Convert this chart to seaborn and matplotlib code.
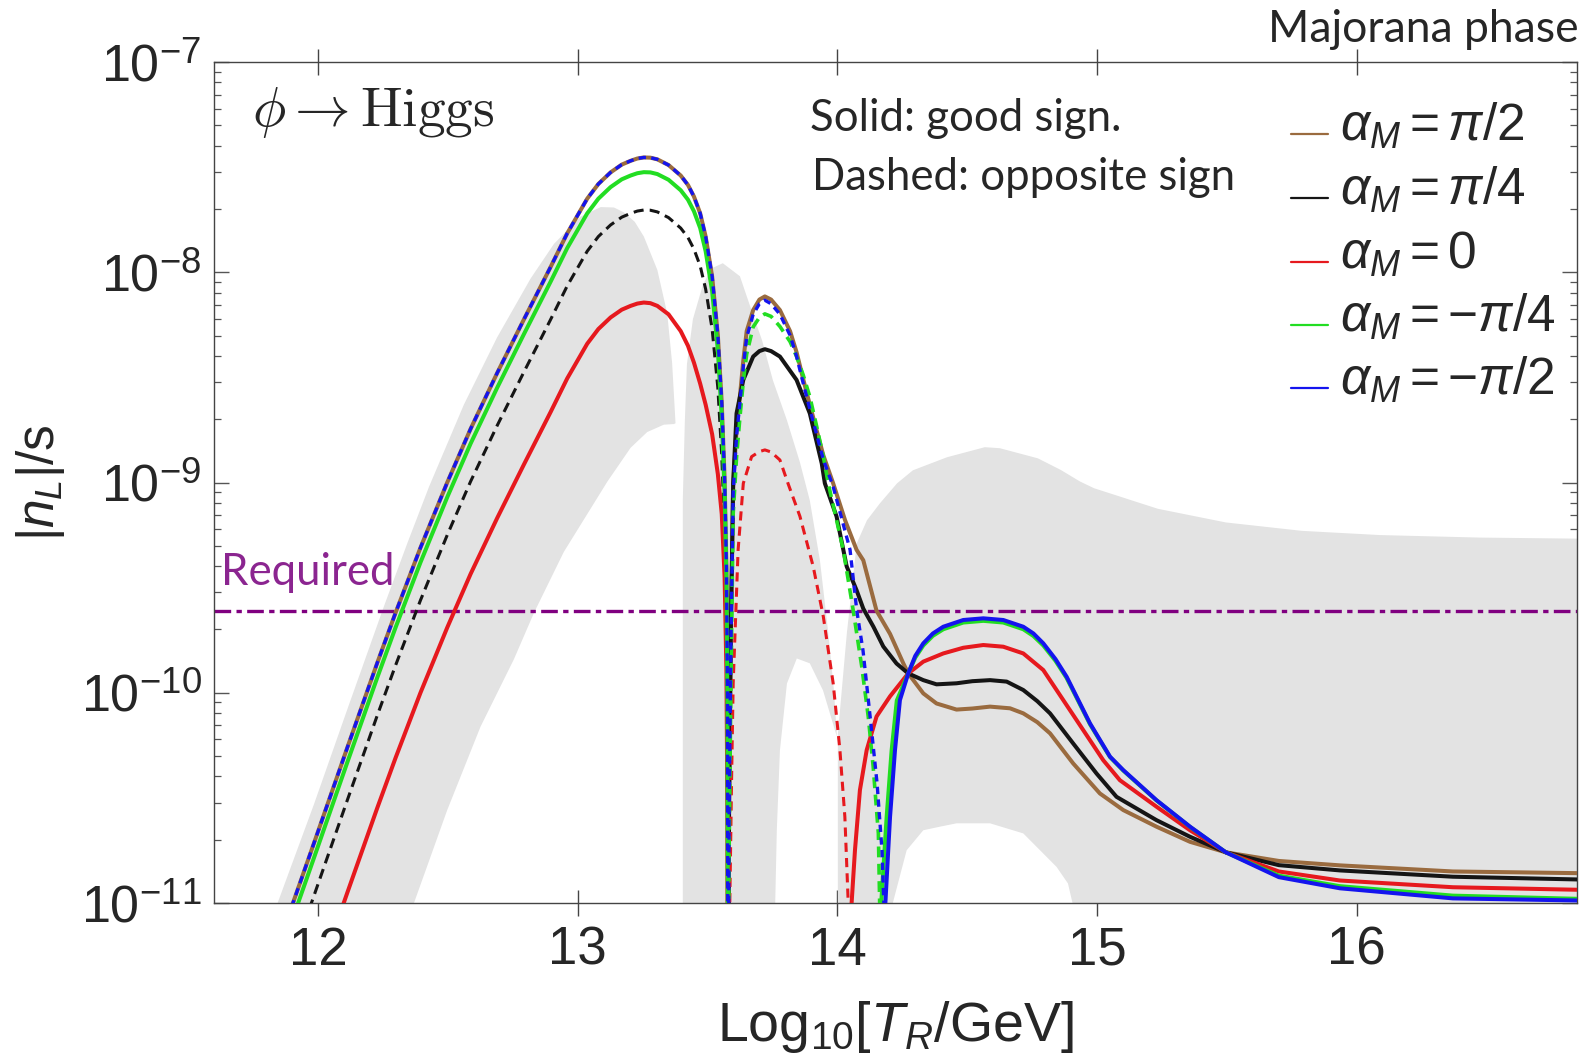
import numpy as np
import pandas as pd
import matplotlib
matplotlib.use("Agg")
import matplotlib.pyplot as plt
import seaborn as sns
from matplotlib.lines import Line2D

# ------------------------------------------------------------------
# Data.  x = Log10[T_R/GeV],  values = log10(|n_L|/s)
# ------------------------------------------------------------------
x_hump1 = [11.800, 11.904, 11.985, 12.113, 12.228, 12.299, 12.395, 12.498, 12.588, 12.690,
           12.793, 12.896, 12.960, 13.037, 13.080, 13.127, 13.170, 13.204, 13.230, 13.255,
           13.280, 13.307, 13.350, 13.397, 13.425, 13.448, 13.472, 13.493, 13.518, 13.540,
           13.555, 13.566, 13.573, 13.577, 13.579]
lg_hump1_pi2 = [-11.36, -11.00, -10.715, -10.262, -9.860, -9.620, -9.310, -9.000, -8.745, -8.480,
                -8.225, -7.975, -7.815, -7.650, -7.580, -7.525, -7.488, -7.470, -7.459, -7.454,
                -7.455, -7.463, -7.490, -7.540, -7.585, -7.640, -7.720, -7.830, -8.020, -8.300,
                -8.620, -8.980, -9.400, -10.000, -12.0]
lg_hump1_mpi4 = [-11.43, -11.07, -10.785, -10.332, -9.930, -9.690, -9.380, -9.070, -8.815, -8.550,
                 -8.295, -8.045, -7.885, -7.720, -7.650, -7.595, -7.558, -7.540, -7.529, -7.524,
                 -7.525, -7.533, -7.560, -7.610, -7.655, -7.710, -7.790, -7.900, -8.090, -8.370,
                 -8.690, -9.050, -9.470, -10.070, -12.0]
lg_hump1_pi4 = [-11.61, -11.25, -10.965, -10.512, -10.110, -9.870, -9.560, -9.250, -8.995, -8.730,
                -8.475, -8.225, -8.065, -7.900, -7.830, -7.775, -7.738, -7.720, -7.709, -7.704,
                -7.705, -7.713, -7.740, -7.790, -7.835, -7.890, -7.970, -8.080, -8.270, -8.550,
                -8.870, -9.230, -9.650, -10.250, -12.0]
lg_hump1_zero = [-12.05, -11.69, -11.405, -10.952, -10.550, -10.310, -10.000, -9.690, -9.435, -9.170,
                 -8.915, -8.665, -8.505, -8.340, -8.270, -8.215, -8.178, -8.160, -8.149, -8.144,
                 -8.147, -8.160, -8.200, -8.280, -8.350, -8.430, -8.530, -8.630, -8.770, -8.960,
                 -9.150, -9.450, -9.900, -10.600, -12.0]

# alpha = pi/2 (brown, solid) after the first zero
x_tail_pi2 = [13.579, 13.583, 13.590, 13.599, 13.612, 13.625, 13.638, 13.651, 13.676, 13.700,
              13.721, 13.745, 13.779, 13.818, 13.843, 13.869, 13.894, 13.920, 13.946, 13.984,
              14.030, 14.074, 14.100, 14.151, 14.203, 14.254, 14.273, 14.331, 14.382, 14.459,
              14.520, 14.588, 14.665, 14.716, 14.770, 14.819, 14.908, 15.011, 15.101, 15.229,
              15.358, 15.496, 15.700, 15.935, 16.370, 16.848]
lg_tail_pi2 = [-12.0, -10.50, -9.70, -9.004, -8.75, -8.59, -8.42, -8.28, -8.18, -8.13,
               -8.115, -8.13, -8.18, -8.28, -8.38, -8.51, -8.63, -8.75, -8.87, -9.004,
               -9.18, -9.32, -9.37, -9.61, -9.72, -9.86, -9.908, -10.003, -10.051, -10.080,
               -10.075, -10.066, -10.074, -10.098, -10.140, -10.193, -10.336, -10.479, -10.558, -10.637,
               -10.709, -10.759, -10.800, -10.821, -10.850, -10.858]

# alpha = pi/4 (black, solid) after the first zero
x_tail_pi4 = [13.579, 13.583, 13.590, 13.599, 13.612, 13.638, 13.676, 13.700, 13.721, 13.745,
              13.779, 13.843, 13.894, 13.940, 13.952, 13.997, 14.036, 14.074, 14.100, 14.139,
              14.177, 14.228, 14.273, 14.331, 14.382, 14.459, 14.520, 14.588, 14.652, 14.716,
              14.770, 14.819, 14.908, 14.998, 15.075, 15.229, 15.358, 15.496, 15.700, 15.935,
              16.370, 16.848]
lg_tail_pi4 = [-12.0, -10.60, -9.70, -9.004, -8.671, -8.512, -8.401, -8.375, -8.366, -8.375,
               -8.401, -8.512, -8.671, -8.909, -9.004, -9.161, -9.399, -9.512, -9.600, -9.686,
               -9.780, -9.861, -9.908, -9.940, -9.960, -9.955, -9.945, -9.940, -9.947, -9.987,
               -10.040, -10.098, -10.241, -10.384, -10.495, -10.606, -10.685, -10.759, -10.820, -10.845,
               -10.875, -10.888]

# second hump, opposite sign (dashed)
x_hump2_mpi2 = [13.579, 13.583, 13.590, 13.599, 13.612, 13.625, 13.638, 13.651, 13.676, 13.700,
                13.721, 13.745, 13.779, 13.818, 13.843, 13.869, 13.894, 13.920, 13.946, 13.984,
                14.049, 14.075, 14.099, 14.126, 14.153, 14.172, 14.179, 14.182]
lg_hump2_mpi2 = [-12.0, -10.60, -9.80, -9.05, -8.78, -8.62, -8.45, -8.31, -8.20, -8.15,
                 -8.133, -8.15, -8.20, -8.30, -8.40, -8.53, -8.65, -8.77, -8.89, -9.02,
                 -9.32, -9.61, -9.80, -10.11, -10.43, -10.75, -11.0, -12.0]
x_hump2_mpi4 = [13.579, 13.583, 13.590, 13.599, 13.612, 13.625, 13.638, 13.651, 13.676, 13.700,
                13.721, 13.745, 13.779, 13.818, 13.843, 13.869, 13.894, 13.920, 13.946, 13.965,
                14.023, 14.061, 14.094, 14.119, 14.138, 14.158, 14.163, 14.166]
lg_hump2_mpi4 = [-12.0, -10.80, -10.00, -9.15, -8.88, -8.69, -8.52, -8.39, -8.26, -8.215,
                 -8.198, -8.21, -8.258, -8.33, -8.401, -8.49, -8.591, -8.73, -8.877, -9.004,
                 -9.321, -9.607, -9.875, -10.113, -10.351, -10.669, -11.0, -12.0]
x_hump2_zero = [13.581, 13.586, 13.593, 13.599, 13.618, 13.638, 13.670, 13.700, 13.721, 13.745,
                13.779, 13.810, 13.856, 13.907, 13.946, 13.984, 14.010, 14.029, 14.042, 14.048]
lg_hump2_zero = [-12.0, -11.0, -10.40, -9.955, -9.321, -9.004, -8.877, -8.853, -8.845, -8.855,
                 -8.893, -9.004, -9.161, -9.399, -9.637, -9.955, -10.273, -10.590, -11.0, -12.0]

# third region, good sign (solid)
x_hump3_zero = [14.050, 14.055, 14.068, 14.087, 14.113, 14.151, 14.203, 14.273, 14.331, 14.408,
                14.485, 14.562, 14.639, 14.716, 14.793, 14.870, 14.947, 15.024, 15.088, 15.229,
                15.358, 15.496, 15.700, 15.935, 16.370, 16.848]
lg_hump3_zero = [-12.0, -11.0, -10.748, -10.463, -10.273, -10.113, -10.017, -9.908, -9.852, -9.813,
                 -9.786, -9.773, -9.781, -9.813, -9.892, -10.035, -10.178, -10.321, -10.416, -10.542,
                 -10.654, -10.759, -10.850, -10.893, -10.925, -10.937]
x_hump3_mpi2 = [14.182, 14.185, 14.203, 14.222, 14.241, 14.273, 14.300, 14.331, 14.368, 14.408,
                14.485, 14.562, 14.639, 14.716, 14.755, 14.793, 14.840, 14.883, 14.973, 15.050,
                15.101, 15.229, 15.358, 15.496, 15.700, 15.935, 16.370, 16.848]
lg_hump3_mpi2 = [-12.0, -11.0, -10.590, -10.273, -10.035, -9.908, -9.825, -9.765, -9.718, -9.686,
                 -9.654, -9.646, -9.654, -9.686, -9.718, -9.765, -9.840, -9.924, -10.146, -10.304,
                 -10.368, -10.511, -10.637, -10.759, -10.877, -10.930, -10.978, -10.988]
x_hump3_mpi4 = [14.166, 14.169, 14.190, 14.209, 14.229, 14.273, 14.300, 14.331, 14.368, 14.408,
                14.485, 14.562, 14.639, 14.716, 14.755, 14.793, 14.840, 14.883, 14.973, 15.050,
                15.101, 15.229, 15.358, 15.496, 15.700, 15.935, 16.370, 16.848]
lg_hump3_mpi4 = [-12.0, -11.0, -10.589, -10.275, -10.037, -9.908, -9.833, -9.775, -9.729, -9.698,
                 -9.666, -9.658, -9.666, -9.698, -9.730, -9.775, -9.848, -9.930, -10.150, -10.306,
                 -10.370, -10.512, -10.638, -10.759, -10.870, -10.920, -10.965, -10.980]

# grey uncertainty band (three pieces)
band1_upper_x = [11.830, 11.985, 12.113, 12.254, 12.344, 12.428, 12.562, 12.690, 12.819, 12.909,
                 13.012, 13.089, 13.140, 13.178, 13.220, 13.255, 13.307, 13.345, 13.364, 13.377]
band1_upper_lg = [-11.05, -10.530, -10.080, -9.590, -9.290, -9.020, -8.630, -8.310, -8.030, -7.865,
                  -7.735, -7.690, -7.692, -7.715, -7.760, -7.830, -7.989, -8.195, -8.433, -8.718]
band1_lower_x = [12.355, 12.370, 12.498, 12.626, 12.755, 12.832, 12.947, 13.115, 13.204, 13.268,
                 13.332, 13.371]
band1_lower_lg = [-11.05, -11.0, -10.558, -10.162, -9.840, -9.620, -9.330, -8.995, -8.835, -8.760,
                  -8.725, -8.722]
band2_upper_x = [13.405, 13.405, 13.413, 13.421, 13.444, 13.483, 13.517, 13.559, 13.625, 13.663,
                 13.710, 13.752, 13.806, 13.856, 13.894, 13.933, 13.964, 13.987, 13.998]
band2_upper_lg = [-11.05, -9.085, -8.704, -8.437, -8.223, -8.057, -7.981, -7.957, -8.019, -8.157,
                  -8.323, -8.514, -8.704, -8.904, -9.085, -9.370, -9.703, -9.989, -10.194]
band2_lower_x = [13.998, 13.983, 13.945, 13.894, 13.844, 13.806, 13.779, 13.767, 13.760]
band2_lower_lg = [-10.208, -10.146, -9.989, -9.860, -9.837, -9.956, -10.274, -10.654, -11.05]
band3_upper_x = [14.002, 14.002, 14.037, 14.075, 14.114, 14.164, 14.230, 14.291, 14.422, 14.568,
                 14.626, 14.772, 14.860, 14.934, 14.988, 15.234, 15.496, 15.789, 16.089, 16.474,
                 16.848, 16.848]
band3_upper_lg = [-11.05, -10.198, -9.713, -9.289, -9.180, -9.099, -9.004, -8.942, -8.880, -8.832,
                  -8.837, -8.885, -8.940, -8.995, -9.027, -9.125, -9.190, -9.230, -9.250, -9.262,
                  -9.267, -11.05]
band3_lower_x = [14.915, 14.888, 14.844, 14.716, 14.588, 14.459, 14.395, 14.331, 14.267, 14.203]
band3_lower_lg = [-11.05, -10.907, -10.828, -10.669, -10.621, -10.621, -10.637, -10.654, -10.749, -11.05]

required_lg = -9.609

x_ticks = [12, 13, 14, 15, 16]
x_tick_labels = ["12", "13", "14", "15", "16"]
y_tick_exps = [-11, -10, -9, -8, -7]
y_tick_labels = [r"$10^{-11}$", r"$10^{-10}$", r"$10^{-9}$", r"$10^{-8}$", r"$10^{-7}$"]

legend_labels = [r"$\alpha_M=\pi/2$", r"$\alpha_M=\pi/4$", r"$\alpha_M=0$",
                 r"$\alpha_M={-}\pi/4$", r"$\alpha_M={-}\pi/2$"]
legend_colors = ["#9a6b3f", "#151515", "#e6191e", "#22dd22", "#1414ee"]

C_BROWN, C_BLACK, C_RED, C_GREEN, C_BLUE = legend_colors
C_GREY = "#e3e3e3"
C_PURPLE = "#800080"

# ------------------------------------------------------------------
sns.set_style("ticks")
plt.rcParams["font.family"] = ["Liberation Sans", "DejaVu Sans"]
plt.rcParams["mathtext.fontset"] = "custom"
plt.rcParams["mathtext.rm"] = "Liberation Sans"
plt.rcParams["mathtext.it"] = "Liberation Sans:italic"
plt.rcParams["mathtext.bf"] = "Liberation Sans:bold"
plt.rcParams["mathtext.sf"] = "Liberation Sans"

W, H = 1592, 1054
fig = plt.figure(figsize=(W / 100, H / 100), dpi=100)
ax = fig.add_axes([214 / W, 1 - 903 / H, 1363 / W, 841 / H])
ax.set_yscale("log")
ax.set_xlim(11.6, 16.848)
ax.set_ylim(1e-11, 1e-7)


def pw(v):
    return np.power(10.0, np.asarray(v, dtype=float))


# grey band
for ux, ul, lx, ll in [(band1_upper_x, band1_upper_lg, band1_lower_x[::-1], band1_lower_lg[::-1]),
                       (band2_upper_x, band2_upper_lg, band2_lower_x, band2_lower_lg),
                       (band3_upper_x, band3_upper_lg, band3_lower_x, band3_lower_lg)]:
    px = list(ux) + list(lx)
    py = list(ul) + list(ll)
    ax.fill(px, pw(py), color=C_GREY, lw=0, zorder=1)

ax.axhline(10 ** required_lg, color=C_PURPLE, lw=2.4, linestyle=(0, (5.0, 1.6, 1.6, 1.6)), zorder=2)


def draw(x, lg, color, lw, dash=None, z=3):
    df = pd.DataFrame({"x": x, "y": pw(lg)})
    kw = dict(color=color, linewidth=lw, estimator=None, sort=False, ax=ax, zorder=z, legend=False)
    if dash is not None:
        kw["linestyle"] = (0, dash)
    else:
        kw["solid_joinstyle"] = "round"
    sns.lineplot(data=df, x="x", y="y", **kw)


LW = 2.9
# alpha = pi/2 : brown, solid everywhere
draw(x_hump1, lg_hump1_pi2, C_BROWN, LW, z=3)
draw(x_tail_pi2, lg_tail_pi2, C_BROWN, LW, z=3)
# alpha = pi/4 : black, dashed first hump, solid after
draw(x_hump1, lg_hump1_pi4, C_BLACK, 2.2, dash=(3.3, 2.0), z=4)
draw(x_tail_pi4, lg_tail_pi4, C_BLACK, LW, z=4)
# alpha = 0 : red
draw(x_hump1, lg_hump1_zero, C_RED, LW, z=5)
draw(x_hump2_zero, lg_hump2_zero, C_RED, 2.2, dash=(3.0, 2.0), z=5)
draw(x_hump3_zero, lg_hump3_zero, C_RED, LW, z=5)
# alpha = -pi/4 : green
draw(x_hump1, lg_hump1_mpi4, C_GREEN, LW, z=6)
draw(x_hump2_mpi4, lg_hump2_mpi4, C_GREEN, 2.6, dash=(3.0, 1.8), z=6)
draw(x_hump3_mpi4, lg_hump3_mpi4, C_GREEN, LW, z=6)
# alpha = -pi/2 : blue
draw(x_hump1, lg_hump1_pi2, C_BLUE, 2.4, dash=(2.2, 1.6), z=7)
draw(x_hump2_mpi2, lg_hump2_mpi2, C_BLUE, 2.4, dash=(2.2, 1.6), z=7)
draw(x_hump3_mpi2, lg_hump3_mpi2, C_BLUE, LW, z=7)

# axes styling
ax.set_xticks(x_ticks)
ax.set_xticklabels(x_tick_labels)
ax.set_yticks([10.0 ** e for e in y_tick_exps])
ax.set_yticklabels(y_tick_labels)
ax.set_yticks([k * 10.0 ** e for e in y_tick_exps[:-1] for k in range(2, 10)], minor=True)
ax.xaxis.set_minor_locator(matplotlib.ticker.NullLocator())
ax.tick_params(axis="y", which="major", direction="in", length=10.8, width=1.0, left=True,
               right=True, labelsize=37.5, pad=9, color="#555555")
ax.tick_params(axis="y", which="minor", direction="in", length=5.0, width=0.9, left=True,
               right=True, color="#555555")
ax.tick_params(axis="x", which="major", direction="inout", length=18.7, width=1.0, top=True,
               bottom=True, labelsize=38, pad=7, color="#444444")
for s in ax.spines.values():
    s.set_linewidth(1.0)
    s.set_color("#444444")
ax.grid(False)
ax.set_facecolor("white")

ax.set_xlabel(r"$\mathrm{Log}_{10}[T_R/\mathrm{GeV}]$", fontsize=40)
ax.xaxis.set_label_coords(0.5, -0.114)
ax.set_ylabel(r"$|n_L|/\mathrm{s}$", fontsize=37)
ax.yaxis.set_label_coords(-0.108, 0.5)

# annotations
ax.text(0.0279, 0.924, r"$\phi \rightarrow \mathrm{Higgs}$", transform=ax.transAxes,
        fontsize=40, math_fontfamily="cm", va="baseline", ha="left", zorder=10)
ax.text(0.4373, 0.9180, "Solid: good sign.", transform=ax.transAxes, fontsize=31.5,
        family=["Lato", "DejaVu Sans"], va="baseline", ha="left", zorder=10)
ax.text(0.4387, 0.8478, "Dashed: opposite sign", transform=ax.transAxes, fontsize=31.5,
        family=["Lato", "DejaVu Sans"], va="baseline", ha="left", zorder=10)
ax.text(0.005, 0.378, "Required", transform=ax.transAxes, fontsize=31.5, color="#8b2590",
        family=["Lato", "DejaVu Sans"], va="baseline", ha="left", zorder=10)
fig.text(1268 / W, 1 - 42 / H, "Majorana phase", fontsize=32, family=["Lato", "DejaVu Sans"],
         va="baseline", ha="left")

# legend (drawn by hand to match layout)
rows_y = [134, 198, 262, 325, 388]
for lab, col, yy in zip(legend_labels, legend_colors, rows_y):
    fig.add_artist(Line2D([1291 / W, 1328 / W], [1 - yy / H, 1 - yy / H], color=col, lw=1.6,
                          transform=fig.transFigure))
    fig.text(1340 / W, 1 - (yy + 7) / H, lab, fontsize=37, va="baseline", ha="left")

fig.savefig("out.png", dpi=100)
